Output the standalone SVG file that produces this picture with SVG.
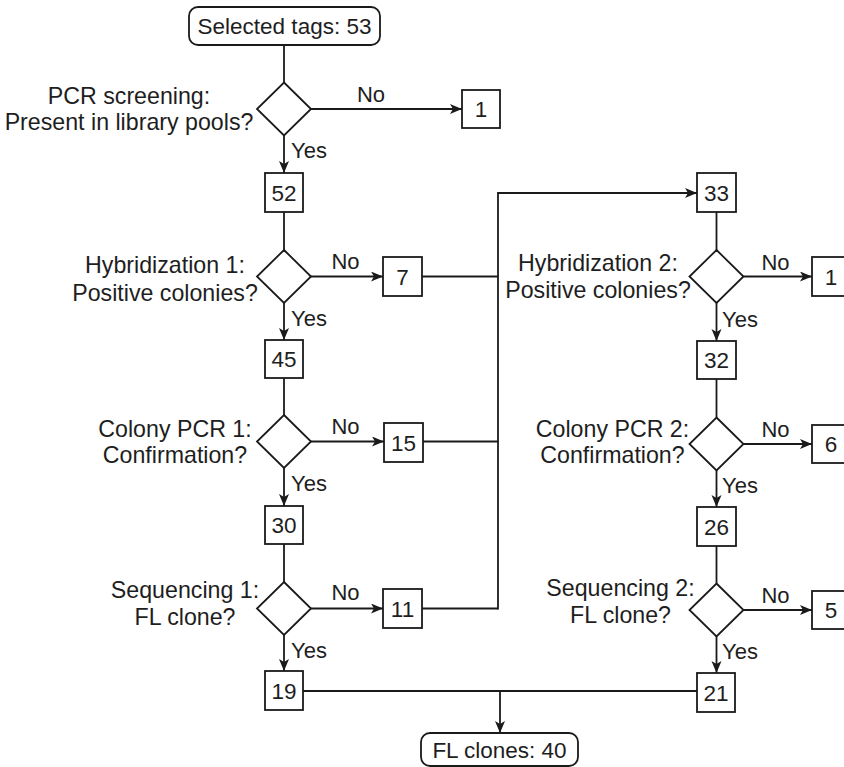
<svg xmlns="http://www.w3.org/2000/svg" width="844" height="767" viewBox="0 0 844 767">
<defs>
<marker id="arr" markerUnits="userSpaceOnUse" markerWidth="14" markerHeight="12" refX="12" refY="5" orient="auto">
<path d="M0,0 L12,5 L0,10 L3,5 z" fill="#1a1a1a"/>
</marker>
</defs>
<style>
text{font-family:"Liberation Sans",Arial,sans-serif;font-size:22.5px;fill:#1e1e1e}
.m{text-anchor:middle}
.q{font-size:23.2px}
#labels text{font-size:22px}
.box{fill:#fff;stroke:#1a1a1a;stroke-width:1.8}
.dia{fill:#fff;stroke:#1a1a1a;stroke-width:1.8}
.c line,.c path{stroke:#1a1a1a;stroke-width:1.8;fill:none}
.a{marker-end:url(#arr)}
</style>
<rect width="844" height="767" fill="#fff"/>
<g class="c" id="connectors">
<line x1="284" y1="45" x2="284" y2="82.5"/>
<line class="a" x1="284" y1="135.5" x2="284" y2="173"/>
<line class="a" x1="311" y1="109" x2="462" y2="109"/>
<line x1="284" y1="212" x2="284" y2="250"/>
<line class="a" x1="284" y1="303" x2="284" y2="340"/>
<line class="a" x1="311" y1="276.5" x2="383" y2="276.5"/>
<line x1="422" y1="276.5" x2="498" y2="276.5"/>
<line x1="284" y1="378" x2="284" y2="415"/>
<line class="a" x1="284" y1="468" x2="284" y2="506"/>
<line class="a" x1="311" y1="441.5" x2="384" y2="441.5"/>
<line x1="423" y1="441.5" x2="498" y2="441.5"/>
<line x1="284" y1="544" x2="284" y2="582"/>
<line class="a" x1="284" y1="635" x2="284" y2="671"/>
<line class="a" x1="311" y1="608.5" x2="383" y2="608.5"/>
<line x1="422" y1="608.5" x2="498" y2="608.5"/>
<line x1="498" y1="193" x2="498" y2="609.4"/>
<line class="a" x1="497.1" y1="193" x2="697" y2="193"/>
<line x1="716.5" y1="212" x2="716.5" y2="250"/>
<line class="a" x1="716.5" y1="303" x2="716.5" y2="341"/>
<line class="a" x1="743.5" y1="276.5" x2="812" y2="276.5"/>
<line x1="716.5" y1="379" x2="716.5" y2="417.5"/>
<line class="a" x1="716.5" y1="470.5" x2="716.5" y2="507"/>
<line class="a" x1="743.5" y1="444" x2="812" y2="444"/>
<line x1="716.5" y1="546" x2="716.5" y2="583.5"/>
<line class="a" x1="716.5" y1="636.5" x2="716.5" y2="673"/>
<line class="a" x1="743.5" y1="610" x2="812" y2="610"/>
<line x1="303" y1="691" x2="697" y2="691"/>
<line class="a" x1="500" y1="691" x2="500" y2="733"/>
</g>
<g id="labels">
<text x="371" y="102" class="m">No</text>
<text x="291" y="158">Yes</text>
<text x="345.5" y="269" class="m">No</text>
<text x="291" y="326">Yes</text>
<text x="345.5" y="434" class="m">No</text>
<text x="291" y="491">Yes</text>
<text x="345.5" y="600" class="m">No</text>
<text x="291" y="658">Yes</text>
<text x="775.5" y="270" class="m">No</text>
<text x="722" y="326.5">Yes</text>
<text x="775.5" y="437" class="m">No</text>
<text x="722" y="493">Yes</text>
<text x="775.5" y="603" class="m">No</text>
<text x="722" y="659">Yes</text>
</g>
<g id="start"><rect class="box" x="189" y="7" width="191" height="38" rx="9"/><text x="284.5" y="34" class="m">Selected tags: 53</text></g>
<g id="d1"><polygon class="dia" points="284,82.5 311,109 284,135.5 257,109"/><text x="129" y="104" class="m q">PCR screening:</text><text x="129" y="130" class="m q">Present in library pools?</text></g>
<g id="n1a"><rect class="box" x="462" y="90" width="38" height="38"/><text x="481" y="117" class="m">1</text></g>
<g id="n52"><rect class="box" x="265" y="173" width="38" height="39"/><text x="284" y="200.5" class="m">52</text></g>
<g id="d2"><polygon class="dia" points="284,250 311,276.5 284,303 257,276.5"/><text x="165" y="273" class="m q">Hybridization 1:</text><text x="165" y="301" class="m q">Positive colonies?</text></g>
<g id="n7"><rect class="box" x="383" y="257" width="39" height="39"/><text x="402.5" y="284.5" class="m">7</text></g>
<g id="n45"><rect class="box" x="265" y="340" width="38" height="38"/><text x="284" y="367" class="m">45</text></g>
<g id="d3"><polygon class="dia" points="284,415 311,441.5 284,468 257,441.5"/><text x="175" y="437" class="m q">Colony PCR 1:</text><text x="175" y="463" class="m q">Confirmation?</text></g>
<g id="n15"><rect class="box" x="384" y="423" width="39" height="39"/><text x="403.5" y="450.5" class="m">15</text></g>
<g id="n30"><rect class="box" x="265" y="506" width="38" height="38"/><text x="284" y="533" class="m">30</text></g>
<g id="d4"><polygon class="dia" points="284,582 311,608.5 284,635 257,608.5"/><text x="185" y="598" class="m q">Sequencing 1:</text><text x="185" y="625" class="m q">FL clone?</text></g>
<g id="n11"><rect class="box" x="383" y="589" width="39" height="39"/><text x="402.5" y="616.5" class="m">11</text></g>
<g id="n19"><rect class="box" x="265" y="671" width="38" height="39"/><text x="284" y="698.5" class="m">19</text></g>
<g id="n33"><rect class="box" x="697" y="173" width="39" height="39"/><text x="716.5" y="200.5" class="m">33</text></g>
<g id="r1"><polygon class="dia" points="716.5,250 743.5,276.5 716.5,303 689.5,276.5"/><text x="598" y="271" class="m q">Hybridization 2:</text><text x="598" y="298" class="m q">Positive colonies?</text></g>
<g id="n1b"><rect class="box" x="812" y="257" width="38" height="39"/><text x="831" y="284.5" class="m">1</text></g>
<g id="n32"><rect class="box" x="697" y="341" width="39" height="38"/><text x="716.5" y="368" class="m">32</text></g>
<g id="r2"><polygon class="dia" points="716.5,417.5 743.5,444 716.5,470.5 689.5,444"/><text x="612.5" y="437" class="m q">Colony PCR 2:</text><text x="612.5" y="463" class="m q">Confirmation?</text></g>
<g id="n6"><rect class="box" x="812" y="425" width="38" height="38"/><text x="831" y="452" class="m">6</text></g>
<g id="n26"><rect class="box" x="697" y="507" width="39" height="39"/><text x="716.5" y="534.5" class="m">26</text></g>
<g id="r3"><polygon class="dia" points="716.5,583.5 743.5,610 716.5,636.5 689.5,610"/><text x="620.5" y="596" class="m q">Sequencing 2:</text><text x="620.5" y="623" class="m q">FL clone?</text></g>
<g id="n5"><rect class="box" x="812" y="591" width="38" height="38"/><text x="831" y="618" class="m">5</text></g>
<g id="n21"><rect class="box" x="697" y="673" width="38" height="39"/><text x="716" y="700.5" class="m">21</text></g>
<g id="end"><rect class="box" x="421" y="733" width="157" height="33" rx="9"/><text x="499.5" y="757.5" class="m">FL clones: 40</text></g>
</svg>
